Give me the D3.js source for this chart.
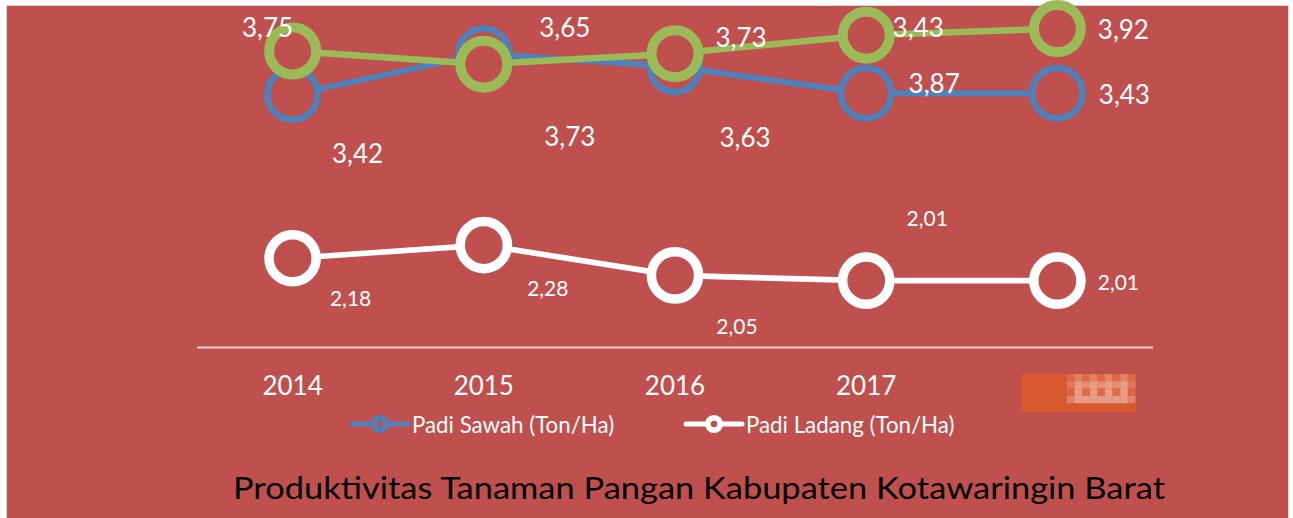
<!DOCTYPE html>
<html>
<head>
<meta charset="utf-8">
<script src="https://cdn.jsdelivr.net/npm/d3@7"></script>
<style>
  html, body { margin: 0; padding: 0; background: #fff; }
  svg { display: block; font-family: Lato, "Open Sans", sans-serif; }
</style>
</head>
<body>
<div id="chart"></div>
<script>
// categories and series values
const years = ["2014", "2015", "2016", "2017", "2018"];
const padiSawah = [3.42, 3.73, 3.63, 3.43, 3.43];
const seriesHijau = [3.75, 3.65, 3.73, 3.87, 3.92];   // third series, not in legend
const padiLadang = [2.18, 2.28, 2.05, 2.01, 2.01];
const yDomain = [1.5, 4.0];
const title = "Produktivitas Tanaman Pangan Kabupaten Kotawaringin Barat";

// hand placed data label offsets [dx, dy] from the point (layout only)
const offSawah = [[65, 68], [86, 92], [70, 80], [52, -56], [67, 11]];
const offHijau = [[-25, -14], [81, -27], [66, -7], [68, 58], [66, 10]];
const offLadang = [[58, 48], [64, 51], [62, 59], [61, -55], [61, 9]];

const width = 1293, height = 518;
const bg = "#C0504D";

const fmt = v => d3.format(".2f")(v).replace(".", ",");

const svg = d3.select("#chart").append("svg")
  .attr("width", width)
  .attr("height", height);

// frame
svg.append("rect")
  .attr("x", 6.5).attr("y", 5.5)
  .attr("width", 1282).attr("height", 530)
  .attr("fill", bg)
  .attr("stroke", "#D9D9D9")
  .attr("stroke-width", 1);

const x = d3.scaleBand().domain(years).range([197, 1153]);
const cx = d => x(d) + x.bandwidth() / 2;
const y = d3.scaleLinear().domain(yDomain).range([348, 18]);

// category axis line
svg.append("line")
  .attr("x1", 197).attr("x2", 1153)
  .attr("y1", 347.5).attr("y2", 347.5)
  .attr("stroke", "#E6D0D0")
  .attr("stroke-width", 2);

// category labels
svg.append("g").selectAll("text")
  .data(years)
  .join("text")
  .attr("x", d => cx(d))
  .attr("y", 395)
  .attr("text-anchor", "middle")
  .attr("fill", "#fff")
  .attr("font-size", 26)
  .text(d => d);

// the last category label is covered in the source picture
const hide = svg.append("g").attr("transform", "translate(1021,374)");
hide.append("rect").attr("width", 115).attr("height", 38).attr("fill", "#D8582F");
const shades = ["#E07A5A", "#E89A86", "#E48C70", "#EAA592", "#DE6E4C", "#E6957C"];
for (let r = 0; r < 4; r++) {
  for (let c = 0; c < 9; c++) {
    hide.append("rect")
      .attr("x", 46 + c * 7.6).attr("y", r * 7.3)
      .attr("width", 7.6).attr("height", 7.3)
      .attr("fill", shades[(r * 5 + c * 3 + (c % 2) * r) % shades.length])
      .attr("opacity", r === 0 || c === 0 || c === 8 ? 0.55 : 0.9);
  }
}

function drawSeries(values, color, lineW, markerR, markerW, offsets, labelSize) {
  const pts = years.map((yr, i) => ({yr, v: values[i], off: offsets[i]}));
  const g = svg.append("g");
  g.append("path")
    .datum(pts)
    .attr("fill", "none")
    .attr("stroke", color)
    .attr("stroke-width", lineW)
    .attr("stroke-linejoin", "round")
    .attr("d", d3.line().x(d => cx(d.yr)).y(d => y(d.v)));
  g.selectAll("circle")
    .data(pts)
    .join("circle")
    .attr("cx", d => cx(d.yr))
    .attr("cy", d => y(d.v))
    .attr("r", markerR)
    .attr("fill", bg)
    .attr("stroke", color)
    .attr("stroke-width", markerW);
  return pts.map(d => ({x: cx(d.yr) + d.off[0], y: y(d.v) + d.off[1], t: fmt(d.v), size: labelSize}));
}

const labels = []
  .concat(drawSeries(padiSawah, "#4F81BD", 6, 25.2, 6.5, offSawah, 26))
  .concat(drawSeries(seriesHijau, "#9BBB59", 6.5, 23.5, 10, offHijau, 26))
  .concat(drawSeries(padiLadang, "#FFFFFF", 5.7, 23.6, 9.5, offLadang, 21));

svg.append("g").selectAll("text")
  .data(labels)
  .join("text")
  .attr("x", d => d.x)
  .attr("y", d => d.y)
  .attr("text-anchor", "middle")
  .attr("fill", "#fff")
  .attr("font-size", d => d.size)
  .text(d => d.t);

// legend
const legend = [
  {name: "Padi Sawah (Ton/Ha)", color: "#4F81BD", x: 352},
  {name: "Padi Ladang (Ton/Ha)", color: "#FFFFFF", x: 686}
];
const lg = svg.append("g").selectAll("g")
  .data(legend)
  .join("g")
  .attr("transform", d => `translate(${d.x},424)`);
lg.append("line")
  .attr("x1", 0).attr("x2", 56)
  .attr("stroke", d => d.color)
  .attr("stroke-width", 5)
  .attr("stroke-linecap", "round");
lg.append("circle")
  .attr("cx", 28)
  .attr("r", 6.2)
  .attr("fill", bg)
  .attr("stroke", d => d.color)
  .attr("stroke-width", 5.8);
lg.append("text")
  .attr("x", 60)
  .attr("y", 9)
  .attr("fill", "#fff")
  .attr("font-size", 22.3)
  .text(d => d.name);

// title
svg.append("text")
  .attr("x", 233)
  .attr("y", 499)
  .attr("fill", "#000")
  .attr("font-size", 31)
  .attr("textLength", 932)
  .attr("lengthAdjust", "spacingAndGlyphs")
  .text(title);
</script>
</body>
</html>
